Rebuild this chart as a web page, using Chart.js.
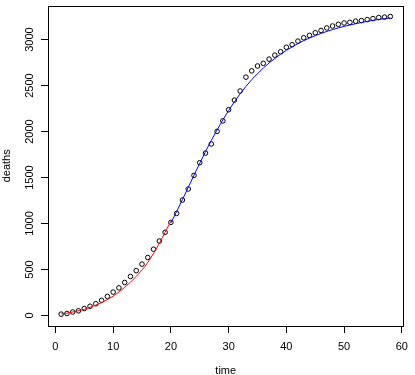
<!DOCTYPE html>
<html>
<head>
<meta charset="utf-8">
<script src="https://cdn.jsdelivr.net/npm/chart.js@4.4.1/dist/chart.umd.min.js"></script>
<style>
  body { margin: 0; background: #fff; }
  #myChart { display: block; }
</style>
</head>
<body>
<canvas id="myChart" width="415" height="375"></canvas>
<script>
  // observed deaths by day
  const time = [
    1, 2, 3, 4, 5, 6, 7, 8, 9, 10, 11, 12, 13, 14, 15, 16, 17, 18, 19, 20,
    21, 22, 23, 24, 25, 26, 27, 28, 29, 30, 31, 32, 33, 34, 35, 36, 37, 38, 39, 40,
    41, 42, 43, 44, 45, 46, 47, 48, 49, 50, 51, 52, 53, 54, 55, 56, 57, 58
  ];
  const deaths = [
    14, 21, 37, 50, 75, 100, 127, 164, 207, 254, 300, 358, 424, 487, 558, 630, 720, 809, 904, 1012,
    1110, 1255, 1375, 1523, 1661, 1766, 1865, 2002, 2116, 2238, 2342, 2441, 2592, 2660, 2713, 2742, 2788, 2831, 2868, 2917,
    2945, 2984, 3020, 3046, 3075, 3099, 3127, 3148, 3166, 3181, 3188, 3201, 3207, 3218, 3229, 3240, 3245, 3251
  ];

  // early fit (red)
  const earlyTime = [1, 2, 3, 4, 5, 6, 7, 8, 9, 10, 11, 12, 13, 14, 15, 16, 17, 18, 19, 20];
  const earlyFit = [16, 25, 37, 51, 68, 88, 112, 140, 172, 210, 254, 305, 361, 425, 494, 576, 676, 784, 905, 1025];

  // logistic fit (blue)
  const lateTime = [
    20, 21, 22, 23, 24, 25, 26, 27, 28, 29, 30, 31, 32, 33, 34, 35, 36, 37, 38, 39,
    40, 41, 42, 43, 44, 45, 46, 47, 48, 49, 50, 51, 52, 53, 54, 55, 56, 57, 58
  ];
  const lateFit = [
    1005, 1130, 1260, 1392, 1525, 1655, 1782, 1903, 2018, 2127, 2229, 2324, 2411, 2491, 2564, 2630, 2690, 2745, 2795, 2841,
    2883, 2921, 2956, 2988, 3017, 3043, 3067, 3089, 3109, 3127, 3144, 3159, 3173, 3186, 3198, 3209, 3219, 3228, 3236
  ];

  const xTicks = [0, 10, 20, 30, 40, 50, 60];
  const yTicks = [0, 500, 1000, 1500, 2000, 2500, 3000];

  const pts = (xs, ys) => xs.map((x, i) => ({x: x, y: ys[i]}));

  const boxPlugin = {
    id: 'box',
    afterDraw(chart) {
      const a = chart.chartArea;
      const ctx = chart.ctx;
      ctx.save();
      ctx.strokeStyle = '#000';
      ctx.lineWidth = 1;
      ctx.strokeRect(Math.round(a.left) + 0.5, Math.round(a.top) + 0.5,
        Math.round(a.right - a.left), Math.round(a.bottom - a.top));
      ctx.restore();
    }
  };

  Chart.defaults.font.family = '"Liberation Sans", Arial, Helvetica, sans-serif';
  Chart.defaults.font.size = 11;
  Chart.defaults.color = '#000';

  const data = {
    datasets: [{
      label: 'deaths',
      type: 'scatter',
      data: pts(time, deaths),
      pointRadius: 2.3,
      pointBorderWidth: 1,
      pointBorderColor: '#000',
      pointBackgroundColor: 'rgba(0,0,0,0)',
      showLine: false,
      order: 3
    }, {
      label: 'early',
      type: 'line',
      data: pts(earlyTime, earlyFit),
      borderColor: '#ff0000',
      borderWidth: 1,
      pointRadius: 0,
      cubicInterpolationMode: 'monotone',
      fill: false,
      order: 2
    }, {
      label: 'logistic',
      type: 'line',
      data: pts(lateTime, lateFit),
      borderColor: '#0000ff',
      borderWidth: 1,
      pointRadius: 0,
      cubicInterpolationMode: 'monotone',
      fill: false,
      order: 1
    }]
  };

  const config = {
    type: 'scatter',
    data,
    plugins: [boxPlugin],
    options: {
      responsive: false,
      animation: false,
      layout: { padding: { top: 1.5, right: 4.5, left: 0, bottom: 0 } },
      plugins: { legend: { display: false }, tooltip: { enabled: false } },
      scales: {
        x: {
          type: 'linear',
          min: -1.28,
          max: 60.28,
          afterBuildTicks: (s) => { s.ticks = xTicks.map(v => ({value: v})); },
          afterFit: (s) => { s.height = 49; },
          grid: { drawOnChartArea: false, drawTicks: true, tickLength: 7, color: '#000' },
          border: { display: false },
          ticks: { padding: 7, maxRotation: 0, autoSkip: false, callback: (v) => String(v) },
          title: { display: true, text: 'time', padding: { top: 0, bottom: -3 } }
        },
        y: {
          type: 'linear',
          min: -115,
          max: 3370,
          afterBuildTicks: (s) => { s.ticks = yTicks.map(v => ({value: v})); },
          afterFit: (s) => { s.width = 48; },
          grid: { drawOnChartArea: false, drawTicks: true, tickLength: 7, color: '#000' },
          border: { display: false },
          ticks: { padding: -1, minRotation: 90, maxRotation: 90, crossAlign: 'center', autoSkip: false, callback: (v) => String(v) },
          title: { display: true, text: 'deaths', padding: { top: 0, bottom: 0 } }
        }
      }
    }
  };

  var myChart = new Chart(
    document.getElementById('myChart'),
    config
  );
</script>
</body>
</html>
